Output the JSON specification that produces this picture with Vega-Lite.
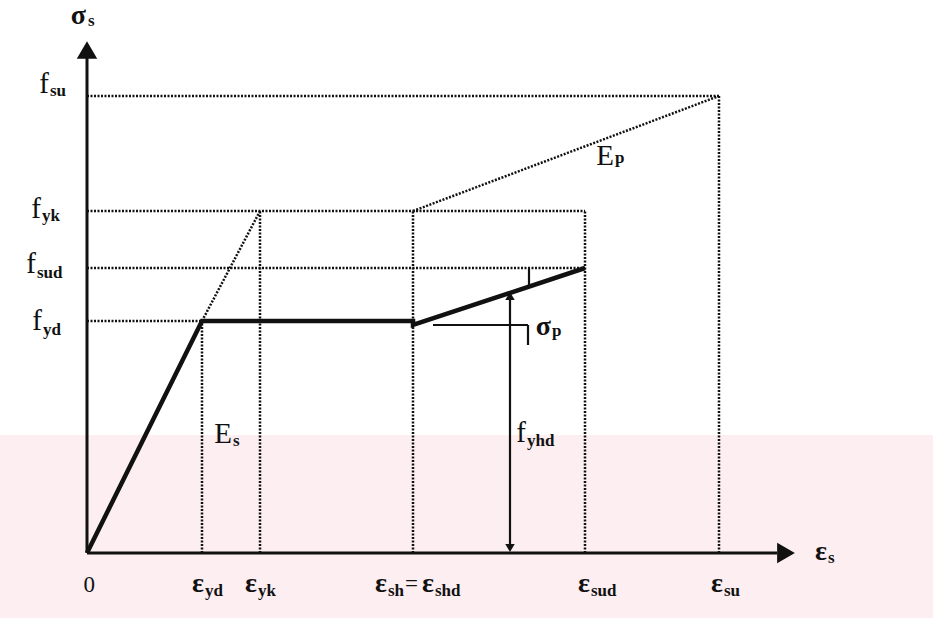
{
  "$schema": "https://vega.github.io/schema/vega-lite/v6.json",
  "width": 933,
  "height": 618,
  "autosize": {"type": "fit", "contains": "padding"},
  "padding": 0,
  "background": "white",
  "config": {"view": {"stroke": null}},
  "datasets": {
    "band": [{"x": -87, "x2": 846, "y": -65, "y2": 118}],
    "curve": [
      {"i": 0, "eps": 0, "sig": 0},
      {"i": 1, "eps": 115, "sig": 232},
      {"i": 2, "eps": 326, "sig": 232},
      {"i": 3, "eps": 326, "sig": 228},
      {"i": 4, "eps": 498, "sig": 285}
    ],
    "dotted": [
      {"x": 0, "y": 457, "x2": 632, "y2": 457},
      {"x": 0, "y": 342, "x2": 498, "y2": 342},
      {"x": 0, "y": 285, "x2": 498, "y2": 285},
      {"x": 0, "y": 232, "x2": 115, "y2": 232},
      {"x": 115, "y": 232, "x2": 173, "y2": 342},
      {"x": 326, "y": 342, "x2": 632, "y2": 457},
      {"x": 115, "y": 0, "x2": 115, "y2": 232},
      {"x": 173, "y": 0, "x2": 173, "y2": 342},
      {"x": 326, "y": 0, "x2": 326, "y2": 342},
      {"x": 498, "y": 0, "x2": 498, "y2": 342},
      {"x": 632, "y": 0, "x2": 632, "y2": 457}
    ],
    "thin": [
      {"x": 346, "y": 228, "x2": 441, "y2": 228},
      {"x": 441, "y": 228, "x2": 441, "y2": 208},
      {"x": 442, "y": 285, "x2": 442, "y2": 268},
      {"x": 423, "y": 4, "x2": 423, "y2": 258}
    ],
    "axes": [
      {"x": 0, "y": 0, "x2": 0, "y2": 497},
      {"x": 0, "y": 0, "x2": 690, "y2": 0}
    ],
    "bigheads": [
      {"x": 0, "y": 503, "shape": "triangle-up"},
      {"x": 699, "y": 0, "shape": "triangle-right"}
    ],
    "smallheads": [
      {"x": 423, "y": 5, "shape": "triangle-down"},
      {"x": 423, "y": 257, "shape": "triangle-up"}
    ],
    "latinText": [
      {"x": -37, "y": 460, "t": "f"},
      {"x": -45, "y": 335, "t": "f"},
      {"x": -50, "y": 280, "t": "f"},
      {"x": -44, "y": 223, "t": "f"},
      {"x": 146, "y": 110, "t": "E"},
      {"x": 440, "y": 111, "t": "f"},
      {"x": 528, "y": 388, "t": "E"}
    ],
    "plainText": [
      {"x": 8, "y": -39, "t": "0"},
      {"x": 331, "y": -38, "t": "="}
    ],
    "greekText": [
      {"x": 0, "y": 529, "t": "σ"},
      {"x": 741, "y": -7, "t": "ε"},
      {"x": 118, "y": -39, "t": "ε"},
      {"x": 171, "y": -39, "t": "ε"},
      {"x": 301, "y": -39, "t": "ε"},
      {"x": 348, "y": -39, "t": "ε"},
      {"x": 504, "y": -39, "t": "ε"},
      {"x": 637, "y": -39, "t": "ε"},
      {"x": 465, "y": 218, "t": "σ"}
    ],
    "subText": [
      {"x": 1, "y": 527, "t": "s"},
      {"x": 741, "y": -10, "t": "s"},
      {"x": -37, "y": 457, "t": "su"},
      {"x": -45, "y": 332, "t": "yk"},
      {"x": -50, "y": 275, "t": "sud"},
      {"x": -44, "y": 218, "t": "yd"},
      {"x": 118, "y": -43, "t": "yd"},
      {"x": 171, "y": -43, "t": "yk"},
      {"x": 301, "y": -43, "t": "sh"},
      {"x": 348, "y": -43, "t": "shd"},
      {"x": 504, "y": -43, "t": "sud"},
      {"x": 637, "y": -43, "t": "su"},
      {"x": 146, "y": 107, "t": "s"},
      {"x": 440, "y": 107, "t": "yhd"},
      {"x": 528, "y": 390, "t": "p"},
      {"x": 465, "y": 217, "t": "p"}
    ]
  },
  "layer": [
    {
      "data": {"name": "band"},
      "mark": {"type": "rect", "color": "#fdeef1"},
      "encoding": {
        "x": {"field": "x", "type": "quantitative", "scale": {"domain": [-87, 846], "nice": false, "zero": false}, "axis": null},
        "x2": {"field": "x2"},
        "y": {"field": "y", "type": "quantitative", "scale": {"domain": [-65, 553], "nice": false, "zero": false}, "axis": null},
        "y2": {"field": "y2"}
      }
    },
    {
      "data": {"name": "dotted"},
      "mark": {"type": "rule", "color": "#111", "strokeWidth": 2.5, "strokeDash": [2, 1.5]},
      "encoding": {
        "x": {"field": "x", "type": "quantitative"},
        "y": {"field": "y", "type": "quantitative"},
        "x2": {"field": "x2"},
        "y2": {"field": "y2"}
      }
    },
    {
      "data": {"name": "thin"},
      "mark": {"type": "rule", "color": "#111", "strokeWidth": 2.2},
      "encoding": {
        "x": {"field": "x", "type": "quantitative"},
        "y": {"field": "y", "type": "quantitative"},
        "x2": {"field": "x2"},
        "y2": {"field": "y2"}
      }
    },
    {
      "data": {"name": "axes"},
      "mark": {"type": "rule", "color": "#111", "strokeWidth": 3},
      "encoding": {
        "x": {"field": "x", "type": "quantitative"},
        "y": {"field": "y", "type": "quantitative"},
        "x2": {"field": "x2"},
        "y2": {"field": "y2"}
      }
    },
    {
      "data": {"name": "curve"},
      "mark": {"type": "line", "color": "#111", "strokeWidth": 4.5, "strokeJoin": "miter"},
      "encoding": {
        "x": {"field": "eps", "type": "quantitative"},
        "y": {"field": "sig", "type": "quantitative"},
        "order": {"field": "i"}
      }
    },
    {
      "data": {"name": "bigheads"},
      "mark": {"type": "point", "filled": true, "color": "#111", "opacity": 1, "size": 420},
      "encoding": {
        "x": {"field": "x", "type": "quantitative"},
        "y": {"field": "y", "type": "quantitative"},
        "shape": {"field": "shape", "type": "nominal", "scale": null}
      }
    },
    {
      "data": {"name": "smallheads"},
      "mark": {"type": "point", "filled": true, "color": "#111", "opacity": 1, "size": 90},
      "encoding": {
        "x": {"field": "x", "type": "quantitative"},
        "y": {"field": "y", "type": "quantitative"},
        "shape": {"field": "shape", "type": "nominal", "scale": null}
      }
    },
    {
      "data": {"name": "latinText"},
      "mark": {"type": "text", "font": "Liberation Serif", "fontSize": 29, "align": "right", "baseline": "alphabetic", "color": "#111", "dx": -1},
      "encoding": {
        "x": {"field": "x", "type": "quantitative"},
        "y": {"field": "y", "type": "quantitative"},
        "text": {"field": "t"}
      }
    },
    {
      "data": {"name": "plainText"},
      "mark": {"type": "text", "font": "Liberation Serif", "fontSize": 23, "align": "right", "baseline": "alphabetic", "color": "#111"},
      "encoding": {
        "x": {"field": "x", "type": "quantitative"},
        "y": {"field": "y", "type": "quantitative"},
        "text": {"field": "t"}
      }
    },
    {
      "data": {"name": "greekText"},
      "mark": {"type": "text", "font": "Liberation Serif", "fontSize": 28, "fontWeight": "bold", "align": "right", "baseline": "alphabetic", "color": "#111", "dx": -1},
      "encoding": {
        "x": {"field": "x", "type": "quantitative"},
        "y": {"field": "y", "type": "quantitative"},
        "text": {"field": "t"}
      }
    },
    {
      "data": {"name": "subText"},
      "mark": {"type": "text", "font": "Liberation Serif", "fontSize": 17, "fontWeight": "bold", "align": "left", "baseline": "alphabetic", "color": "#111"},
      "encoding": {
        "x": {"field": "x", "type": "quantitative"},
        "y": {"field": "y", "type": "quantitative"},
        "text": {"field": "t"}
      }
    }
  ]
}
